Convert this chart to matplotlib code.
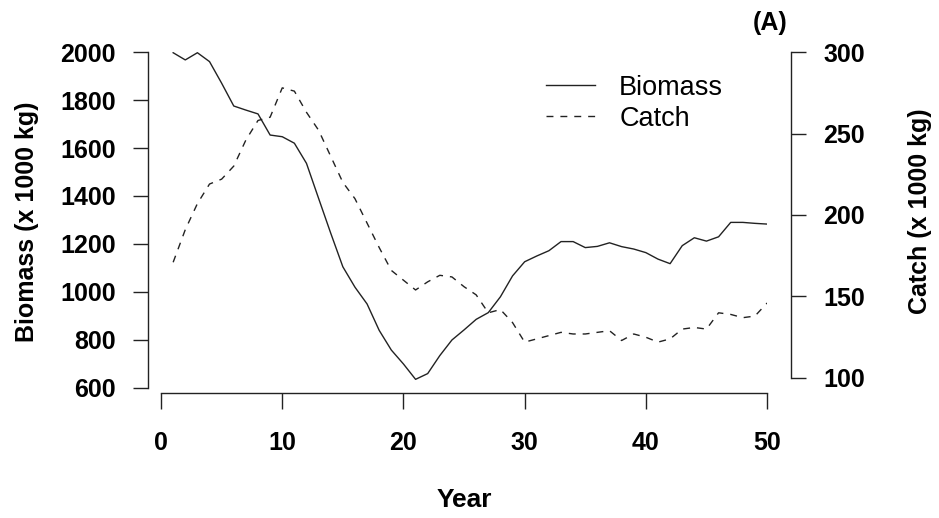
import matplotlib
matplotlib.use("Agg")
import matplotlib.pyplot as plt

# Simulated biomass and catch over 50 years
years = list(range(1, 51))
biomass = [1997, 1967, 1997, 1960, 1870, 1775, 1758, 1742, 1654, 1647,
           1620, 1536, 1390, 1245, 1105, 1020, 950, 840, 758, 700,
           636, 660, 735, 800, 842, 886, 914, 980, 1067, 1126,
           1150, 1172, 1210, 1210, 1185, 1190, 1205, 1189, 1179, 1164,
           1137, 1118, 1193, 1226, 1212, 1230, 1290, 1290, 1286, 1283]
catch = [171, 191, 207, 219, 222, 230, 246, 258, 260, 278,
         276, 263, 252, 236, 220, 210, 195, 180, 166, 160,
         154, 159, 163, 162, 156, 151, 140, 142, 134, 122,
         124, 126, 128, 127, 127, 128, 129, 123, 127, 125,
         122, 124, 130, 131, 130, 140, 139, 137, 138, 146]

xticks = [0, 10, 20, 30, 40, 50]
left_ticks = [600, 800, 1000, 1200, 1400, 1600, 1800, 2000]
right_ticks = [100, 150, 200, 250, 300]

plt.rcParams['font.family'] = ['Liberation Sans', 'DejaVu Sans']
plt.rcParams['lines.scale_dashes'] = False

fig = plt.figure(figsize=(9.39, 5.18), dpi=100)
ax = fig.add_axes([0.1715, 0.251, 0.6454, 0.6486])

ink = '#222222'
ax.plot(years, biomass, color=ink, lw=1.0, label='Biomass')
ax.set_xlim(0, 50)
ax.set_ylim(600, 2000)

ax2 = ax.twinx()
ax2.plot(years, catch, color=ink, lw=1.0, dashes=(5, 5), label='Catch')
ax2.set_ylim(93.87, 300)

# R style separated axes
for a in (ax, ax2):
    a.spines['top'].set_visible(False)
    a.set_facecolor('none')
ax.spines['right'].set_visible(False)
ax2.spines['left'].set_visible(False)
ax2.spines['bottom'].set_visible(False)
ax.spines['left'].set_position(('outward', 9.4))
ax.spines['bottom'].set_position(('outward', 3.6))
ax2.spines['right'].set_position(('outward', 17.3))
ax.spines['left'].set_bounds(600, 2000)
ax.spines['bottom'].set_bounds(0, 50)
ax2.spines['right'].set_bounds(100, 300)
for sp in (ax.spines['left'], ax.spines['bottom'], ax2.spines['right']):
    sp.set_linewidth(1.0)
    sp.set_color(ink)

ax.set_xticks(xticks)
ax.set_yticks(left_ticks)
ax2.set_yticks(right_ticks)
ax.tick_params(axis='y', length=11, width=1.0, pad=12, labelsize=18, colors=ink)
ax.tick_params(axis='x', length=11.5, width=1.0, pad=16, labelsize=18, colors=ink)
ax2.tick_params(axis='y', length=11, width=1.0, pad=12, labelsize=18, colors=ink)
for lab in ax.get_xticklabels() + ax.get_yticklabels() + ax2.get_yticklabels():
    lab.set_fontweight('bold')
    lab.set_color('black')

fig.text(0.029, 0.572, 'Biomass (x 1000 kg)', rotation=90, ha='center', va='center',
         fontsize=18, fontweight='bold')
fig.text(0.98, 0.593, 'Catch (x 1000 kg)', rotation=90, ha='center', va='center',
         fontsize=18, fontweight='bold')
fig.text(0.494, 0.034, 'Year', ha='center', va='center', fontsize=19, fontweight='bold')
fig.text(0.82, 0.955, '(A)', ha='center', va='center', fontsize=18, fontweight='bold')

h1, l1 = ax.get_legend_handles_labels()
h2, l2 = ax2.get_legend_handles_labels()
fig.legend(h1 + h2, l1 + l2, loc='upper left', bbox_to_anchor=(0.57, 0.877),
           frameon=False, fontsize=19.5, handlelength=1.8, handletextpad=0.9,
           labelspacing=0.2, borderaxespad=0)

fig.savefig('out.png', dpi=100)
